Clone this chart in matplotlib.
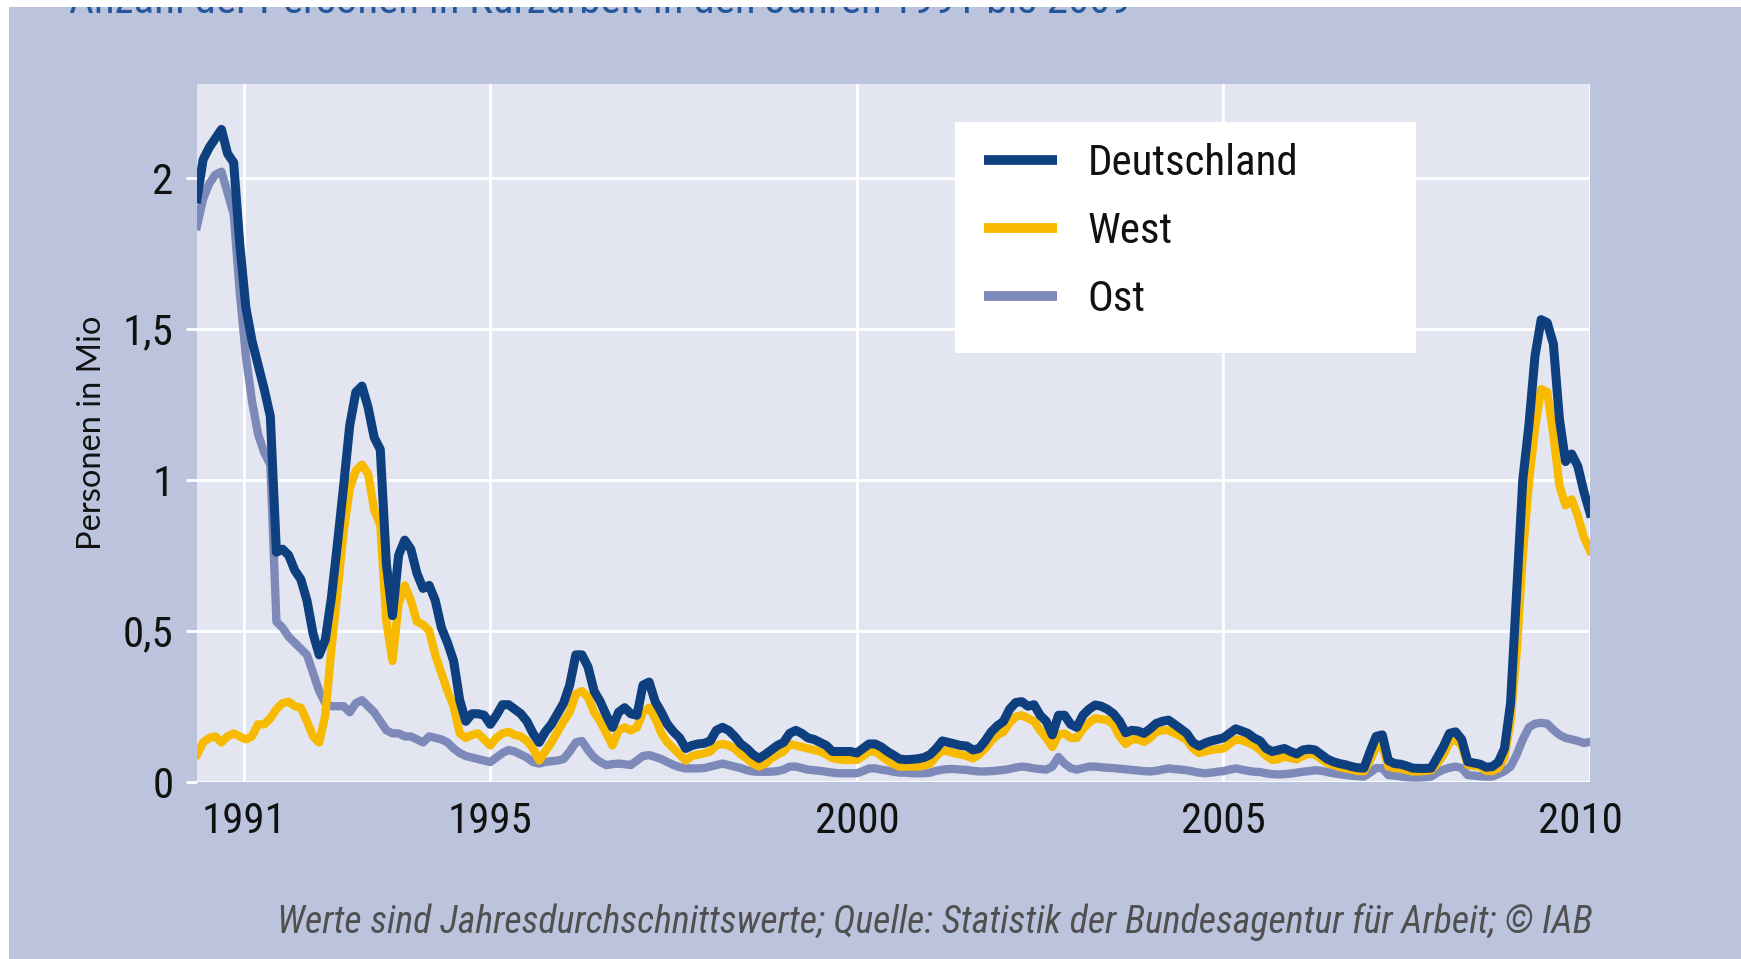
import numpy as np
import matplotlib
matplotlib.use("Agg")
import matplotlib.pyplot as plt
from matplotlib import font_manager
from matplotlib.patches import Rectangle
from matplotlib.transforms import ScaledTranslation

# monthly values, Jan 1991 .. Jan 2010, in million persons
deutschland = [
    1.93, 2.06, 2.10, 2.13, 2.16, 2.08, 2.05, 1.78, 1.57, 1.46, 1.38, 1.30,
    1.21, 0.76, 0.77, 0.75, 0.70, 0.67, 0.60, 0.49, 0.42, 0.47, 0.61, 0.79,
    0.98, 1.18, 1.29, 1.31, 1.24, 1.14, 1.10, 0.72, 0.55, 0.75, 0.80, 0.77,
    0.69, 0.64, 0.65, 0.60, 0.51, 0.46, 0.40, 0.27, 0.20, 0.225, 0.225, 0.22,
    0.19, 0.22, 0.255, 0.255, 0.24, 0.225, 0.20, 0.16, 0.13, 0.165, 0.19, 0.225,
    0.26, 0.32, 0.42, 0.42, 0.38, 0.30, 0.265, 0.22, 0.18, 0.23, 0.245, 0.225,
    0.22, 0.32, 0.33, 0.265, 0.23, 0.19, 0.165, 0.145, 0.11, 0.12, 0.125, 0.127,
    0.135, 0.17, 0.18, 0.17, 0.15, 0.125, 0.11, 0.09, 0.077, 0.09, 0.105, 0.12,
    0.13, 0.16, 0.17, 0.16, 0.145, 0.14, 0.13, 0.12, 0.10, 0.10, 0.10, 0.10,
    0.095, 0.11, 0.125, 0.125, 0.115, 0.10, 0.088, 0.075, 0.073, 0.074, 0.076, 0.08,
    0.09, 0.11, 0.135, 0.13, 0.125, 0.12, 0.118, 0.105, 0.11, 0.135, 0.165, 0.185,
    0.20, 0.24, 0.262, 0.265, 0.25, 0.255, 0.22, 0.20, 0.155, 0.22, 0.22, 0.19,
    0.18, 0.22, 0.24, 0.254, 0.25, 0.24, 0.225, 0.20, 0.162, 0.17, 0.168, 0.16,
    0.175, 0.193, 0.20, 0.204, 0.19, 0.175, 0.16, 0.13, 0.118, 0.128, 0.135, 0.14,
    0.145, 0.16, 0.175, 0.168, 0.16, 0.145, 0.135, 0.11, 0.10, 0.105, 0.11, 0.10,
    0.092, 0.105, 0.108, 0.105, 0.09, 0.075, 0.066, 0.06, 0.056, 0.05, 0.046, 0.045,
    0.10, 0.15, 0.155, 0.07, 0.06, 0.058, 0.052, 0.045, 0.044, 0.044, 0.045, 0.08,
    0.116, 0.16, 0.165, 0.14, 0.066, 0.062, 0.058, 0.048, 0.05, 0.065, 0.11, 0.26,
    0.63, 1.00, 1.18, 1.41, 1.53, 1.52, 1.45, 1.20, 1.06, 1.085, 1.045, 0.96,
    0.89,
]
west = [
    0.09, 0.13, 0.145, 0.15, 0.13, 0.15, 0.16, 0.15, 0.14, 0.15, 0.19, 0.19,
    0.21, 0.24, 0.26, 0.265, 0.25, 0.245, 0.20, 0.15, 0.13, 0.22, 0.44, 0.63,
    0.83, 0.97, 1.03, 1.05, 1.02, 0.90, 0.85, 0.53, 0.40, 0.59, 0.65, 0.60,
    0.53, 0.52, 0.50, 0.42, 0.36, 0.30, 0.25, 0.16, 0.145, 0.155, 0.16, 0.14,
    0.12, 0.145, 0.16, 0.165, 0.155, 0.15, 0.135, 0.11, 0.07, 0.10, 0.13, 0.165,
    0.20, 0.23, 0.29, 0.30, 0.28, 0.23, 0.20, 0.16, 0.12, 0.17, 0.18, 0.17,
    0.18, 0.23, 0.245, 0.21, 0.16, 0.13, 0.11, 0.09, 0.07, 0.085, 0.09, 0.094,
    0.10, 0.12, 0.125, 0.12, 0.11, 0.09, 0.077, 0.06, 0.05, 0.06, 0.077, 0.09,
    0.10, 0.125, 0.12, 0.115, 0.11, 0.105, 0.10, 0.09, 0.078, 0.074, 0.072, 0.072,
    0.072, 0.085, 0.10, 0.10, 0.085, 0.07, 0.058, 0.05, 0.05, 0.05, 0.05, 0.053,
    0.06, 0.085, 0.103, 0.10, 0.094, 0.09, 0.085, 0.077, 0.09, 0.11, 0.135, 0.155,
    0.165, 0.195, 0.215, 0.22, 0.21, 0.20, 0.17, 0.145, 0.115, 0.155, 0.16, 0.145,
    0.145, 0.175, 0.195, 0.21, 0.207, 0.204, 0.19, 0.15, 0.125, 0.14, 0.14, 0.132,
    0.145, 0.165, 0.17, 0.17, 0.16, 0.15, 0.138, 0.11, 0.095, 0.10, 0.105, 0.108,
    0.11, 0.125, 0.14, 0.137, 0.13, 0.12, 0.105, 0.085, 0.072, 0.075, 0.083, 0.078,
    0.074, 0.085, 0.092, 0.09, 0.075, 0.062, 0.055, 0.048, 0.044, 0.04, 0.035, 0.035,
    0.07, 0.115, 0.12, 0.05, 0.045, 0.044, 0.038, 0.034, 0.034, 0.036, 0.038, 0.06,
    0.088, 0.13, 0.14, 0.12, 0.056, 0.052, 0.05, 0.036, 0.035, 0.045, 0.08, 0.20,
    0.43, 0.75, 0.99, 1.17, 1.30, 1.29, 1.15, 0.98, 0.915, 0.935, 0.88, 0.81,
    0.765,
]
ost = [
    1.84, 1.93, 1.98, 2.01, 2.02, 1.95, 1.88, 1.62, 1.41, 1.26, 1.15, 1.09,
    1.05, 0.53, 0.51, 0.48, 0.46, 0.44, 0.42, 0.36, 0.30, 0.26, 0.25, 0.25,
    0.25, 0.23, 0.26, 0.27, 0.25, 0.23, 0.20, 0.17, 0.16, 0.16, 0.15, 0.15,
    0.14, 0.13, 0.15, 0.145, 0.14, 0.13, 0.11, 0.095, 0.085, 0.08, 0.075, 0.07,
    0.065, 0.08, 0.095, 0.105, 0.10, 0.09, 0.08, 0.065, 0.06, 0.065, 0.068, 0.07,
    0.075, 0.10, 0.13, 0.135, 0.105, 0.08, 0.065, 0.055, 0.058, 0.06, 0.058, 0.055,
    0.07, 0.085, 0.088, 0.082, 0.075, 0.065, 0.055, 0.048, 0.044, 0.044, 0.044, 0.045,
    0.05, 0.055, 0.06, 0.055, 0.05, 0.045, 0.038, 0.034, 0.033, 0.033, 0.033, 0.035,
    0.04, 0.05, 0.05, 0.045, 0.04, 0.038, 0.036, 0.033, 0.03, 0.028, 0.028, 0.028,
    0.028, 0.035, 0.044, 0.044, 0.04, 0.037, 0.033, 0.03, 0.03, 0.028, 0.028, 0.028,
    0.03, 0.036, 0.04, 0.042, 0.042, 0.04, 0.039, 0.036, 0.034, 0.034, 0.035, 0.037,
    0.039, 0.042, 0.047, 0.05, 0.048, 0.044, 0.042, 0.04, 0.05, 0.082, 0.06, 0.045,
    0.04, 0.045, 0.05, 0.05, 0.048, 0.046, 0.045, 0.043, 0.041, 0.039, 0.037, 0.035,
    0.034, 0.036, 0.04, 0.044, 0.042, 0.04, 0.038, 0.034, 0.03, 0.028, 0.03, 0.033,
    0.035, 0.04, 0.044, 0.04, 0.036, 0.033, 0.032, 0.028, 0.025, 0.024, 0.025, 0.027,
    0.03, 0.033, 0.035, 0.038, 0.036, 0.032, 0.028, 0.025, 0.022, 0.02, 0.018, 0.017,
    0.03, 0.045, 0.045, 0.022, 0.02, 0.017, 0.015, 0.014, 0.014, 0.015, 0.017, 0.03,
    0.04, 0.046, 0.05, 0.045, 0.022, 0.02, 0.018, 0.017, 0.017, 0.025, 0.035, 0.05,
    0.09, 0.14, 0.18, 0.192, 0.195, 0.192, 0.172, 0.155, 0.145, 0.14, 0.135, 0.128,
    0.132,
]
months = np.arange(len(deutschland))
x = 1991 + months / 12.0

series_names = ["Deutschland", "West", "Ost"]
year_ticks = [1991.64, 1995, 2000, 2005, 2010]
year_labels = ["1991", "1995", "2000", "2005", "2010"]
y_ticks = [0, 0.5, 1, 1.5, 2]
y_labels = ["0", "0,5", "1", "1,5", "2"]

title = "Anzahl der Personen in Kurzarbeit in den Jahren 1991 bis 2009"
note = "Werte sind Jahresdurchschnittswerte; Quelle: Statistik der Bundesagentur für Arbeit; © IAB"

# pick a condensed font if one is installed
installed = {f.name for f in font_manager.fontManager.ttflist}
cond = next((n for n in ["Liberation Sans Narrow", "Roboto Condensed", "Open Sans Condensed"]
             if n in installed), "DejaVu Sans")
plain = "Lato" if "Lato" in installed else "DejaVu Sans"

W, H = 1741, 959
lavender = "#bcc3dc"
navy = "#0e3f7e"
gold = "#f8ba00"
grey_blue = "#7d89b8"

fig = plt.figure(figsize=(W / 100, H / 100), dpi=100, facecolor="white")
fig.add_artist(Rectangle((9 / W, 0), 1, 1, transform=fig.transFigure,
                         facecolor=lavender, edgecolor="none", zorder=0))
# title is cut off at the top edge, as in the original
fig.text(69 / W, 1 - 13 / H, title, family=cond, fontsize=31, color="#24579a",
         va="baseline", ha="left", zorder=3)
fig.add_artist(Rectangle((0, 1 - 7 / H), 1, 7 / H, transform=fig.transFigure,
                         facecolor="white", edgecolor="none", zorder=10))

ax = fig.add_axes([197 / W, 1 - 781.7 / H, (1590 - 197) / W, (781.7 - 84.4) / H], zorder=1)
ax.set_facecolor("#e3e6f0")
for s in ax.spines.values():
    s.set_visible(False)

ax.plot(x, ost, color=grey_blue, lw=6, label=series_names[2], zorder=3, solid_joinstyle="round")
ax.plot(x, west, color=gold, lw=6, label=series_names[1], zorder=4, solid_joinstyle="round")
ax.plot(x, deutschland, color=navy, lw=6.5, label=series_names[0], zorder=5, solid_joinstyle="round")

ax.set_xlim(1991, 2010)
ax.set_ylim(0, 2.309)
ax.set_xticks(year_ticks)
ax.set_xticklabels(year_labels)
ax.set_yticks(y_ticks)
ax.set_yticklabels(y_labels)
ax.grid(True, color="white", lw=2)
ax.set_axisbelow(True)
ax.tick_params(axis="x", length=0, pad=14, labelsize=31, labelcolor="#111111")
ax.tick_params(axis="y", length=8, width=2, color="white", pad=9, labelsize=31,
               labelcolor="#111111")
for lab in ax.get_xticklabels() + ax.get_yticklabels():
    lab.set_family(cond)
# last year label sits a little left of the right edge
last = ax.get_xticklabels()[-1]
last.set_transform(last.get_transform() + ScaledTranslation(-0.1, 0, fig.dpi_scale_trans))

fig.text(92 / W, 1 - 433 / H, "Personen in Mio", family=plain, fontsize=23.5,
         rotation=90, ha="center", va="center", color="#111111")

# legend: white box plus frameless legend
ax.add_patch(Rectangle((0.544, 0.615), 0.331, 0.331, transform=ax.transAxes,
                       facecolor="white", edgecolor="none", zorder=6))
handles, labels = ax.get_legend_handles_labels()
order = [2, 1, 0]
leg = ax.legend([handles[i] for i in order], [labels[i] for i in order],
                loc="upper left", bbox_to_anchor=(0.5497, 0.947), frameon=False,
                borderpad=0, handlelength=1.7, handletextpad=0.7, labelspacing=0.63,
                prop={"family": cond, "size": 31})
leg.set_zorder(7)
for line in leg.get_lines():
    line.set_linewidth(7)
    line.set_solid_capstyle("butt")
for t in leg.get_texts():
    t.set_color("#111111")

fig.text(1593 / W, 1 - 922 / H, note, family=cond, style="italic", fontsize=27.3,
         color="#505050", ha="right", va="center")

fig.savefig("out.png", dpi=100, facecolor=fig.get_facecolor())
